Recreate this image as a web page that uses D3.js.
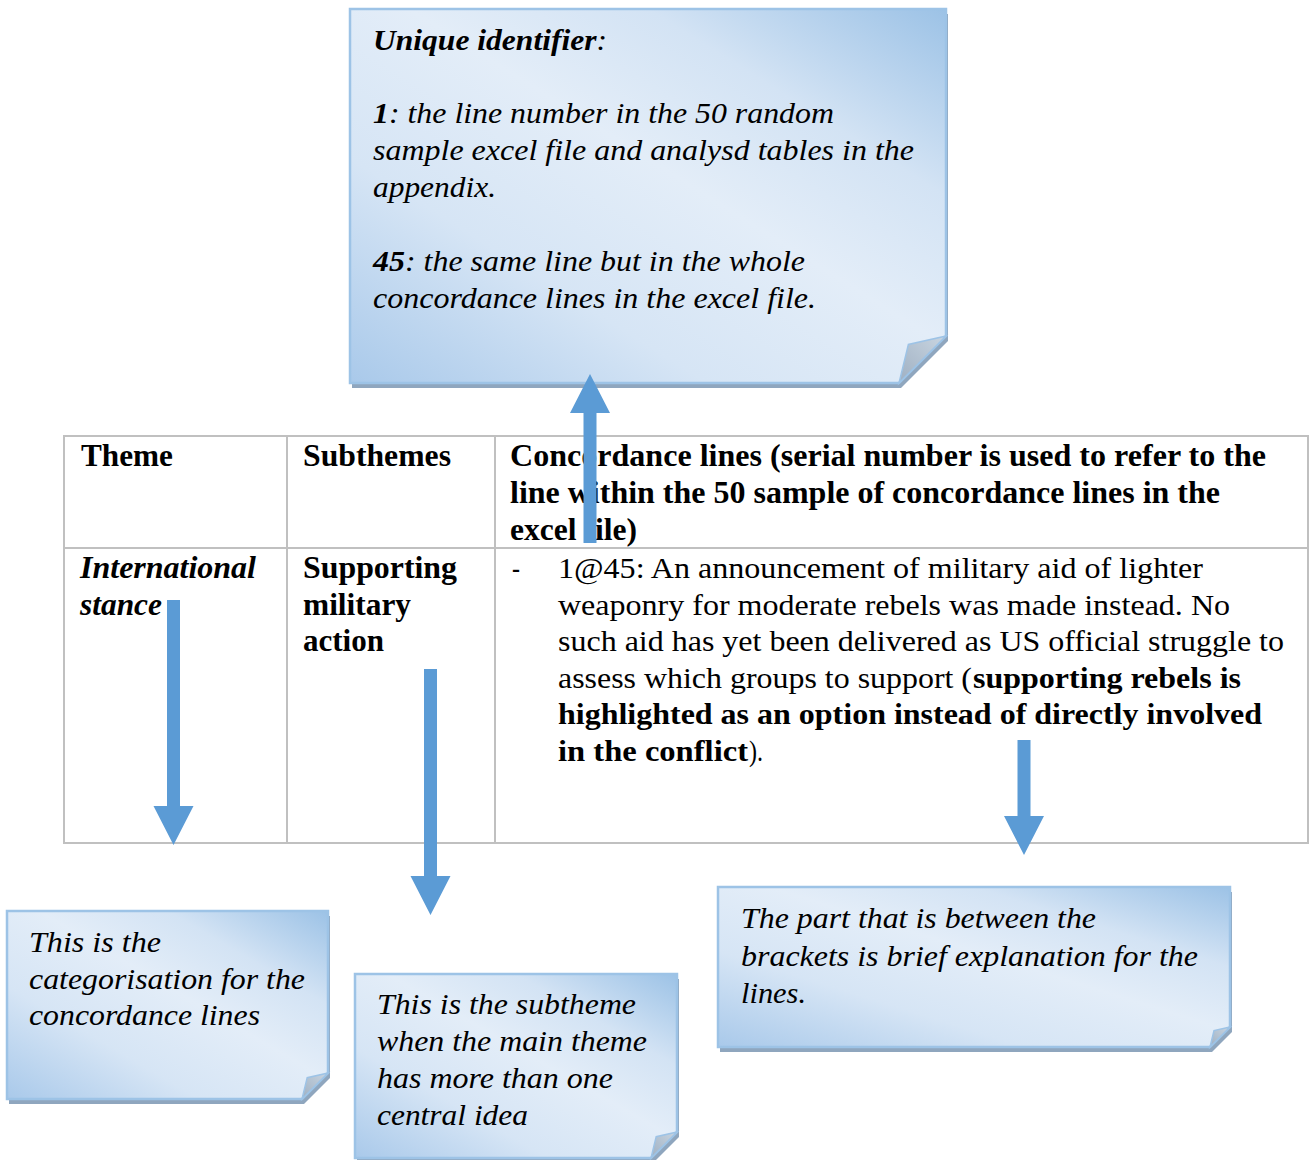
<!DOCTYPE html>
<html><head><meta charset="utf-8">
<script src="https://cdn.jsdelivr.net/npm/d3@7"></script>
<style>
html,body{margin:0;padding:0;background:#fff;}
svg{display:block;font-family:"Liberation Serif","Times New Roman",serif;}
</style></head>
<body>
<svg id="c" width="1315" height="1160"></svg>
<script>
// ---------- content ----------
const tableHeaders = ["Theme", "Subthemes",
  ["Concordance lines (serial number is used to refer to the",
   "line within the 50 sample of concordance lines in the",
   "excel file)"]];
const themeLines = ["International", "stance"];
const subthemeLines = ["Supporting", "military", "action"];
const concordanceLines = [
  [{t:"1@45: An announcement of military aid of lighter", s:"r", w:645}],
  [{t:"weaponry for moderate rebels was made instead. No", s:"r", w:672}],
  [{t:"such aid has yet been delivered as US official struggle to", s:"r", w:726}],
  [{t:"assess which groups to support (", s:"r", w:414}, {t:"supporting rebels is", s:"b", w:268}],
  [{t:"highlighted as an option instead of directly involved", s:"b", w:704}],
  [{t:"in the conflict", s:"b", w:190}, {t:").", s:"r", w:14}]
];
const topNoteLines = [
  [{t:"Unique identifier", s:"bi"}, {t:":", s:"i"}],
  [{t:"1", s:"bi"}, {t:": the line number in the 50 random", s:"i"}],
  [{t:"sample excel file and analysd tables in the", s:"i"}],
  [{t:"appendix.", s:"i"}],
  [],
  [{t:"45", s:"bi"}, {t:": the same line but in the whole", s:"i"}],
  [{t:"concordance lines in the excel file.", s:"i"}]
];
const noteLeftLines = ["This is the", "categorisation for the", "concordance lines"];
const noteMidLines = ["This is the subtheme", "when the main theme", "has more than one", "central idea"];
const noteRightLines = ["The part that is between the", "brackets is brief explanation for the", "lines."];

// ---------- layout ----------
const svg = d3.select("#c");
const BLUE = "#5b9bd5";
const defs = svg.append("defs");
const g = defs.append("linearGradient").attr("id","noteGrad")
  .attr("x1","0").attr("y1","1").attr("x2","1").attr("y2","0");
[[0,"#a9c9ea"],[0.3,"#d6e5f5"],[0.55,"#e3edf8"],[0.75,"#d3e3f4"],[1,"#9cc2e6"]]
  .forEach(([o,c]) => g.append("stop").attr("offset",o).attr("stop-color",c));
const fg = defs.append("linearGradient").attr("id","foldGrad")
  .attr("x1","0").attr("y1","1").attr("x2","1").attr("y2","0");
fg.append("stop").attr("offset",0).attr("stop-color","#9fb0c2");
fg.append("stop").attr("offset",1).attr("stop-color","#c9d5e1");

function styleOf(s){
  return {
    weight: s.includes("b") ? "bold" : "normal",
    italic: s.includes("i") ? "italic" : "normal"
  };
}

// ---------- table ----------
const tbl = {x0:64, x1:1308, y0:436, y1:843, cols:[287,495], row:548};
const grid = svg.append("g").attr("stroke","#c0c0c0").attr("stroke-width",2).attr("fill","none");
grid.append("rect").attr("x",tbl.x0).attr("y",tbl.y0).attr("width",tbl.x1-tbl.x0).attr("height",tbl.y1-tbl.y0);
tbl.cols.forEach(cx => grid.append("line").attr("x1",cx).attr("x2",cx).attr("y1",tbl.y0).attr("y2",tbl.y1));
grid.append("line").attr("x1",tbl.x0).attr("x2",tbl.x1).attr("y1",tbl.row).attr("y2",tbl.row);

const lineY = (base, step) => d3.scaleLinear().domain([0,1]).range([base, base+step]);

function textLine(parent, x, y, str, s, w, fs){
  const st = styleOf(s);
  const t = parent.append("text").attr("x",x).attr("y",y)
    .attr("font-size",fs).attr("font-weight",st.weight).attr("font-style",st.italic)
    .attr("fill","#000").text(str);
  if (w) t.attr("textLength",w).attr("lengthAdjust","spacingAndGlyphs");
  return t;
}

const tt = svg.append("g");
const hy = lineY(466, 37);
textLine(tt, 81, hy(0), tableHeaders[0], "b", 92, 31);
textLine(tt, 303, hy(0), tableHeaders[1], "b", 148, 31);
const hdrW = [756, 710, 127];
tableHeaders[2].forEach((l,i) => textLine(tt, 510, hy(i), l, "b", hdrW[i], 31));

const ry = lineY(578, 36.6);
const themeW = [176, 82];
themeLines.forEach((l,i) => textLine(tt, 80, ry(i), l, "bi", themeW[i], 31));
const subW = [154, 108, 81];
subthemeLines.forEach((l,i) => textLine(tt, 303, ry(i), l, "b", subW[i], 31));
textLine(tt, 512, ry(0), "-", "r", 8, 30);
concordanceLines.forEach((segs,i) => {
  let x = 558;
  segs.forEach(sg => { textLine(tt, x, ry(i), sg.t, sg.s, sg.w, 30); x += sg.w + 1; });
});

// ---------- sticky notes ----------
function note(box, f){
  const {x0,y0,x1,y1} = box;
  const gN = svg.append("g");
  const shape = `M${x0},${y0}L${x1},${y0}L${x1},${y1-f}L${x1-f},${y1}L${x0},${y1}Z`;
  gN.append("path").attr("d", shape).attr("transform","translate(2,5)").attr("fill","#8fa6be");
  gN.append("path").attr("d", shape).attr("fill","url(#noteGrad)")
    .attr("stroke","#9dc3e6").attr("stroke-width",2.5);
  const fx = x1 - f*0.8, fy = y1 - f*0.82;
  gN.append("path").attr("d",`M${x1},${y1-f}L${fx},${fy}L${x1-f},${y1}Z`)
    .attr("fill","url(#foldGrad)").attr("stroke","#9dc3e6").attr("stroke-width",1.5);
  return gN;
}

function noteText(gN, x, base, step, lines, widths, fs){
  const y = lineY(base, step);
  lines.forEach((l,i) => {
    if (typeof l === "string") { textLine(gN, x, y(i), l, "i", widths[i], fs); return; }
    if (!l.length) return;
    const t = gN.append("text").attr("x",x).attr("y",y(i)).attr("font-size",fs).attr("fill","#000");
    l.forEach(sg => {
      const st = styleOf(sg.s);
      t.append("tspan").attr("font-weight",st.weight).attr("font-style",st.italic).text(sg.t);
    });
    if (widths[i]) t.attr("textLength",widths[i]).attr("lengthAdjust","spacingAndGlyphs");
  });
}

const nTop = note({x0:350,y0:9,x1:946,y1:383}, 47);
noteText(nTop, 373, 50, 36.5, [topNoteLines[0]], [234], 29);
noteText(nTop, 373, 123, 37, topNoteLines.slice(1), [461,541,123,0,432,443], 29);

const nLeft = note({x0:7,y0:911,x1:328,y1:1099}, 26);
noteText(nLeft, 29, 952, 36.5, noteLeftLines, [132,276,231], 29);

const nMid = note({x0:355,y0:974,x1:677,y1:1158}, 26);
noteText(nMid, 377, 1014, 37, noteMidLines, [259,270,236,151], 29);

const nRight = note({x0:718,y0:887,x1:1230,y1:1047}, 20);
noteText(nRight, 741, 928, 37.5, noteRightLines, [355,457,65], 29);

// ---------- arrows ----------
const arrows = [
  {cx:590,   tail:543, tip:374},
  {cx:173.5, tail:600, tip:845},
  {cx:430.5, tail:669, tip:915},
  {cx:1024,  tail:740, tip:855}
];
const shaftW = 13, headW = 40, headLen = 39;
svg.append("g").selectAll("path").data(arrows).join("path")
  .attr("fill", BLUE)
  .attr("d", a => {
    const dir = a.tip > a.tail ? 1 : -1;
    const hb = a.tip - dir*headLen;
    const sx0 = a.cx - shaftW/2, sx1 = a.cx + shaftW/2;
    return `M${sx0},${a.tail}L${sx0},${hb}L${a.cx-headW/2},${hb}L${a.cx},${a.tip}` +
           `L${a.cx+headW/2},${hb}L${sx1},${hb}L${sx1},${a.tail}Z`;
  });
</script>
</body></html>
